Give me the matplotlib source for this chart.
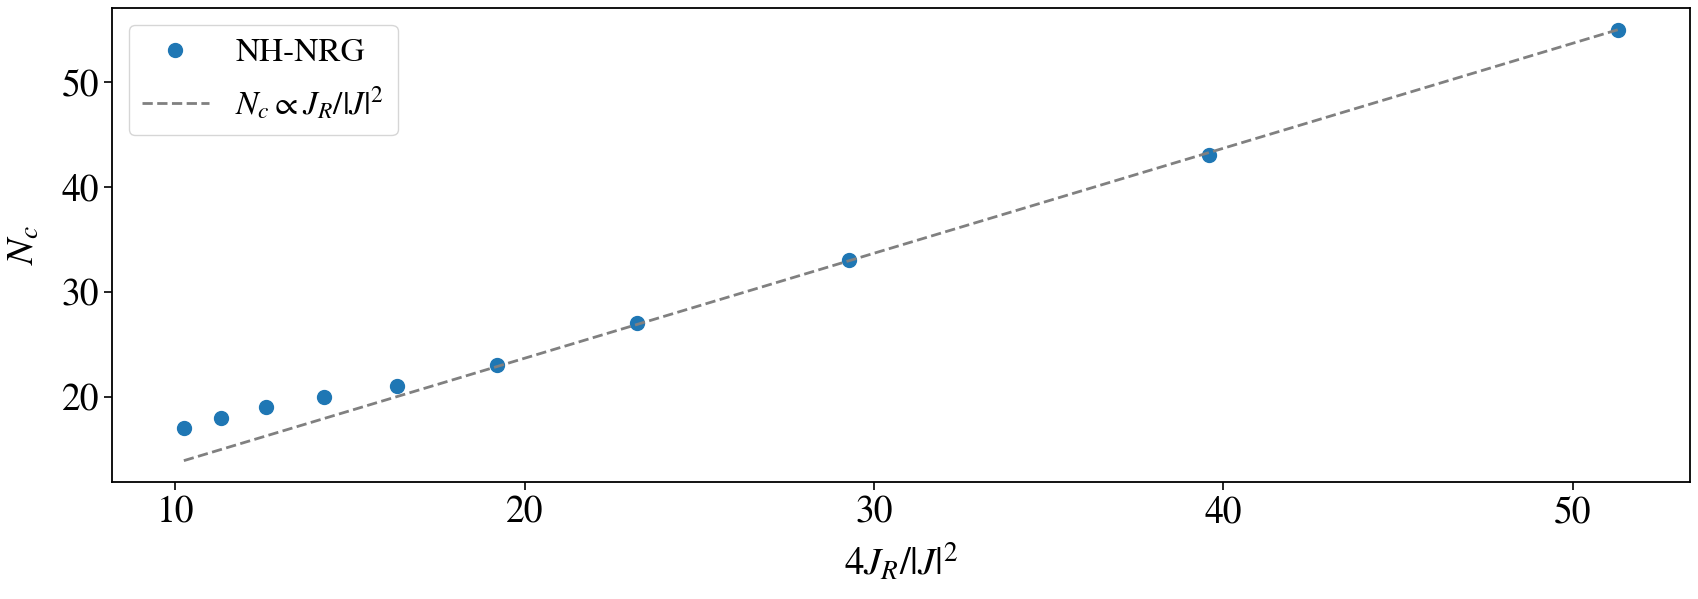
import matplotlib
matplotlib.use("Agg")
import matplotlib.pyplot as plt

plt.rcParams["font.family"] = "STIXGeneral"
plt.rcParams["mathtext.fontset"] = "stix"

# NH-NRG data
x_vals = [10.25, 11.30, 12.60, 14.25, 16.36, 19.21, 23.21, 29.29, 39.58, 51.30]
nc_vals = [17, 18, 19, 20, 21, 23, 27, 33, 43, 55]

# fitted line end points
fit_x = [10.25, 51.30]
fit_y = [13.9, 55.0]

fig = plt.figure(figsize=(16.99, 5.99), dpi=100)
ax = fig.add_axes([0.066, 0.195, 0.9287, 0.7916])

ax.plot(x_vals, nc_vals, "o", color="#1f77b4", markersize=10, label="NH-NRG")
ax.plot(fit_x, fit_y, "--", color="gray", linewidth=2,
        label=r"$N_c \propto J_R/|J|^2$")

ax.set_xlabel(r"$4J_R/|J|^2$", fontsize=28, labelpad=8)
ax.set_ylabel(r"$N_c$", fontsize=28, labelpad=14)
ax.set_xticks([10, 20, 30, 40, 50])
ax.set_yticks([20, 30, 40, 50])
ax.tick_params(labelsize=27, width=1.2, length=6)
for s in ax.spines.values():
    s.set_linewidth(1.3)

ax.legend(loc="upper left", fontsize=24)

fig.savefig("out.png", dpi=100)
